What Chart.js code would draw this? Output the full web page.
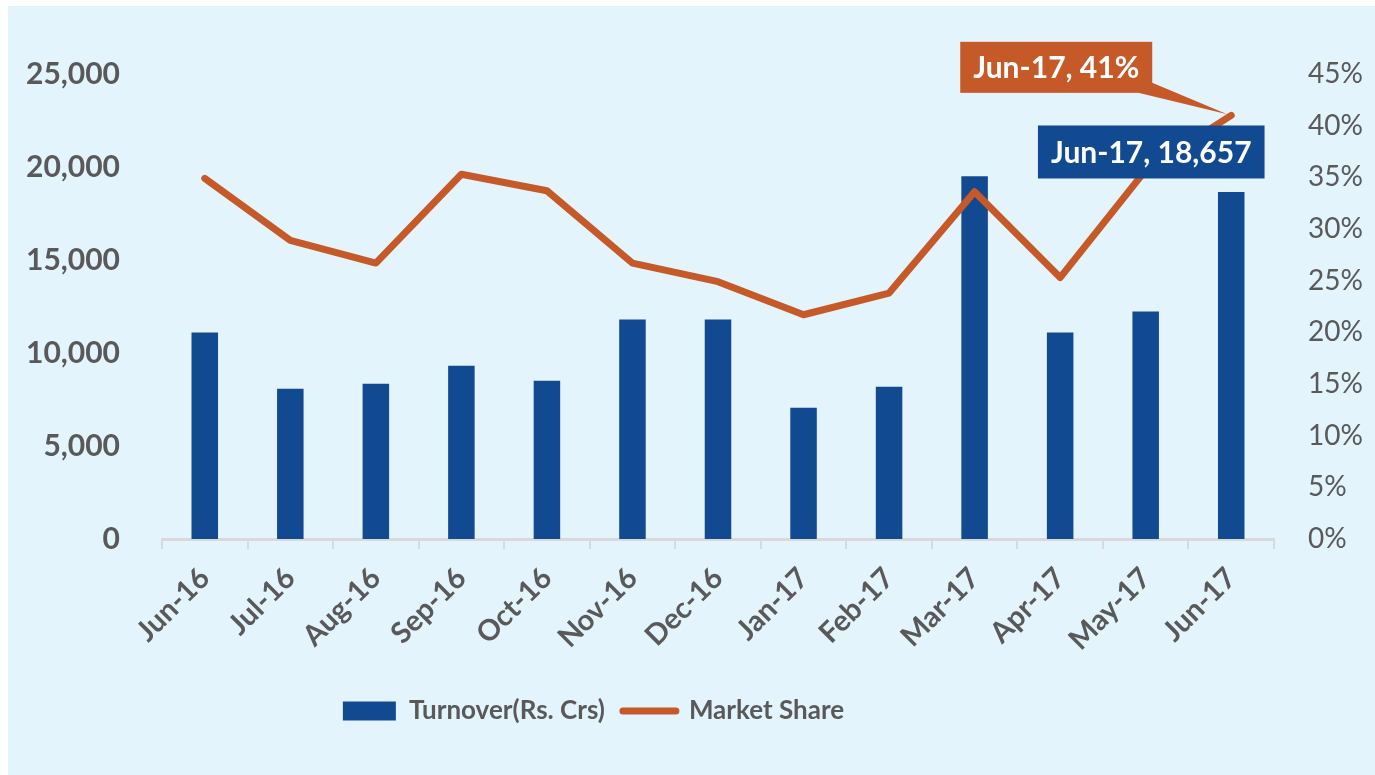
<!DOCTYPE html>
<html>
<head>
<meta charset="utf-8">
<script src="https://cdn.jsdelivr.net/npm/chart.js@4.4.1/dist/chart.umd.min.js"></script>
<style>
  html, body { margin:0; padding:0; background:#fff; overflow:hidden; }
  .bg { position:absolute; left:8px; top:6px; right:0; bottom:0; background:#E3F4FC; }
  .wrap { position:absolute; left:0; top:0; width:1375px; height:775px; }
</style>
</head>
<body>
<div class="bg"></div>
<div class="wrap"><canvas id="c"></canvas></div>
<script>
// данные
const months = ['Jun-16','Jul-16','Aug-16','Sep-16','Oct-16','Nov-16','Dec-16',
                'Jan-17','Feb-17','Mar-17','Apr-17','May-17','Jun-17'];
const turnover = [11100, 8080, 8350, 9320, 8510, 11800, 11800, 7060, 8190, 19500, 11100, 12230, 18657];
const share    = [34.9, 28.9, 26.7, 35.3, 33.7, 26.7, 24.9, 21.7, 23.8, 33.6, 25.3, 35.7, 41];
const leftTicks  = [0, 5000, 10000, 15000, 20000, 25000];
const rightTicks = [0, 5, 10, 15, 20, 25, 30, 35, 40, 45];

const BLUE = '#124A92';
const ORANGE = '#C55A28';
const GREY = '#595959';
const AXIS = '#D9D9D9';
const FONT = 'Lato';
const fmt = new Intl.NumberFormat('en-US');

// подписи последней точки (выноски)
const callouts = {
  id: 'callouts',
  afterDatasetsDraw(chart) {
    const { ctx } = chart;
    const last = months.length - 1;
    const bar = chart.getDatasetMeta(0).data[last];
    const pt  = chart.getDatasetMeta(1).data[last];
    ctx.save();
    ctx.font = `bold 30px ${FONT}`;
    ctx.textAlign = 'center';
    ctx.textBaseline = 'middle';

    // оранжевая
    const t1 = `${months[last]}, ${share[last]}%`;
    const w1 = ctx.measureText(t1).width + 26, h1 = 51;
    const cx1 = pt.x - 175, cy1 = pt.y - 48;
    const l1 = cx1 - w1 / 2, tp1 = cy1 - h1 / 2;
    ctx.fillStyle = ORANGE;
    ctx.fillRect(l1, tp1, w1, h1);
    ctx.beginPath();
    ctx.moveTo(l1 + w1 - 14, tp1 + h1);
    ctx.lineTo(l1 + w1, tp1 + h1 - 10);
    ctx.lineTo(pt.x - 4, pt.y - 1);
    ctx.closePath();
    ctx.fill();
    ctx.fillStyle = '#fff';
    ctx.fillText(t1, cx1, cy1 + 1);

    // синяя
    const t2 = `${months[last]}, ${fmt.format(turnover[last])}`;
    const w2 = ctx.measureText(t2).width + 26, h2 = 53;
    const cx2 = bar.x - 80, cy2 = bar.y - 40;
    ctx.fillStyle = BLUE;
    ctx.fillRect(cx2 - w2 / 2, cy2 - h2 / 2, w2, h2);
    ctx.fillStyle = '#fff';
    ctx.fillText(t2, cx2, cy2 + 1);
    ctx.restore();
  },
  afterLayout(chart) {
    // легенда в оригинале смещена левее центра
    const lg = chart.legend;
    if (lg) { lg.left = 0; lg.right = 1187; }
  }
};

new Chart(document.getElementById('c'), {
  data: {
    labels: months,
    datasets: [
      {
        type: 'bar',
        label: 'Turnover(Rs. Crs)',
        data: turnover,
        yAxisID: 'y',
        backgroundColor: BLUE,
        barPercentage: 0.62,
        categoryPercentage: 0.5,
        order: 2
      },
      {
        type: 'line',
        label: 'Market Share',
        data: share,
        yAxisID: 'y1',
        borderColor: ORANGE,
        backgroundColor: ORANGE,
        borderWidth: 7,
        borderJoinStyle: 'round',
        borderCapStyle: 'round',
        pointRadius: 0,
        tension: 0,
        order: 1
      }
    ]
  },
  options: {
    responsive: true,
    maintainAspectRatio: false,
    animation: false,
    layout: { padding: { top: 74, bottom: 41, left: 0, right: 0 } },
    plugins: {
      tooltip: { enabled: false },
      legend: {
        position: 'bottom',
        labels: {
          color: GREY,
          font: { family: FONT, size: 26, weight: 'bold' },
          usePointStyle: true,
          pointStyleWidth: 53,
          boxHeight: 19,
          padding: 18,
          generateLabels: () => [
            { text: 'Turnover(Rs. Crs)', fillStyle: BLUE, strokeStyle: BLUE, lineWidth: 0,
              pointStyle: 'rect', datasetIndex: 0, fontColor: GREY },
            { text: 'Market Share', fillStyle: ORANGE, strokeStyle: ORANGE, lineWidth: 7,
              lineCap: 'round', pointStyle: 'line', datasetIndex: 1, fontColor: GREY }
          ]
        }
      }
    },
    scales: {
      x: {
        grid: { offset: true, drawOnChartArea: false, drawTicks: true, tickLength: 10, color: AXIS, lineWidth: 2 },
        border: { display: true, color: AXIS, width: 3 },
        ticks: {
          color: GREY, font: { family: FONT, size: 29, weight: 'bold' },
          maxRotation: 45, minRotation: 45, autoSkip: false, padding: 12
        },
        afterFit: s => { s.height = 141; }
      },
      y: {
        position: 'left',
        min: leftTicks[0], max: leftTicks[leftTicks.length - 1],
        grid: { display: false },
        border: { display: false },
        afterBuildTicks: s => { s.ticks = leftTicks.map(v => ({ value: v })); },
        ticks: {
          color: GREY, font: { family: FONT, size: 30, weight: 'bold' },
          padding: 34, callback: v => fmt.format(v)
        },
        afterFit: s => { s.width = 162; }
      },
      y1: {
        position: 'right',
        min: rightTicks[0], max: rightTicks[rightTicks.length - 1],
        grid: { display: false },
        border: { display: false },
        afterBuildTicks: s => { s.ticks = rightTicks.map(v => ({ value: v })); },
        ticks: {
          color: GREY, font: { family: FONT, size: 28 },
          padding: 26, callback: v => v + '%'
        },
        afterFit: s => { s.width = 101; }
      }
    }
  },
  plugins: [callouts]
});
</script>
</body>
</html>
